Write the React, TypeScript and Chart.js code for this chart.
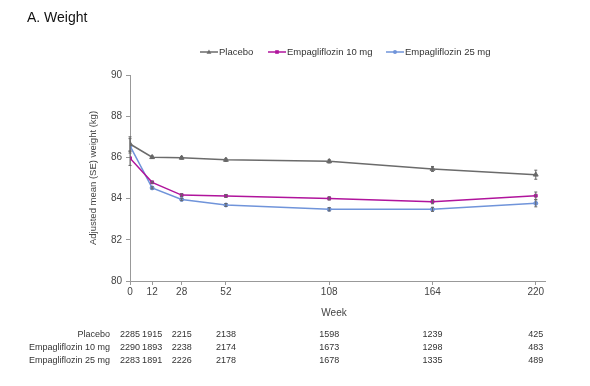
import React, { useEffect, useRef } from "react";
import { Chart, registerables } from "chart.js";

Chart.register(...registerables);

const weeks = [0, 12, 28, 52, 108, 164, 220];
const seriesNames = ["Placebo", "Empagliflozin 10 mg", "Empagliflozin 25 mg"];
const placebo = [86.65, 86.01, 85.98, 85.88, 85.81, 85.44, 85.16];
const empa10 = [85.96, 84.79, 84.17, 84.13, 84.01, 83.85, 84.14];
const empa25 = [86.56, 84.52, 83.96, 83.69, 83.48, 83.48, 83.77];
const placeboSE = [0.35, 0.06, 0.06, 0.07, 0.08, 0.12, 0.22];
const empa10SE = [0.35, 0.05, 0.06, 0.07, 0.08, 0.1, 0.18];
const empa25SE = [0.35, 0.05, 0.06, 0.07, 0.08, 0.1, 0.17];
const atRiskPlacebo = [2285, 1915, 2215, 2138, 1598, 1239, 425];
const atRisk10 = [2290, 1893, 2238, 2174, 1673, 1298, 483];
const atRisk25 = [2283, 1891, 2226, 2178, 1678, 1335, 489];
const yTicks = [80, 82, 84, 86, 88, 90];

const colors = ["#6b6b6b", "#b0149c", "#7094da"];
const markers = ["triangle", "rect", "circle"];
const markerRadius = [2.8, 2, 2];
const FONT = "'Liberation Sans', Arial, sans-serif";

export default function App() {
  const ref = useRef<HTMLCanvasElement>(null);
  useEffect(() => {
    const ctx = ref.current!;
    const values = [placebo, empa10, empa25];
    const ses = [placeboSE, empa10SE, empa25SE];
    const risks = [atRiskPlacebo, atRisk10, atRisk25];

    const overlay = {
      id: "overlay",
      afterDatasetsDraw(chart: any) {
        const c = chart.ctx as CanvasRenderingContext2D;
        const xs = chart.scales.x;
        const ys = chart.scales.y;
        c.save();
        ses.forEach((se, di) => {
          c.strokeStyle = "#666";
          c.lineWidth = 1;
          weeks.forEach((w, i) => {
            const x = xs.getPixelForValue(w);
            const y1 = ys.getPixelForValue(values[di][i] - se[i]);
            const y2 = ys.getPixelForValue(values[di][i] + se[i]);
            c.beginPath();
            c.moveTo(x, y1);
            c.lineTo(x, y2);
            c.moveTo(x - 1.5, y1);
            c.lineTo(x + 1.5, y1);
            c.moveTo(x - 1.5, y2);
            c.lineTo(x + 1.5, y2);
            c.stroke();
          });
        });
        c.restore();
      },
      afterDraw(chart: any) {
        const c = chart.ctx as CanvasRenderingContext2D;
        const xs = chart.scales.x;
        c.save();
        c.fillStyle = "#111";
        c.font = `14px ${FONT}`;
        c.textAlign = "left";
        c.textBaseline = "middle";
        c.fillText("A. Weight", 27, 18);
        const legX = [200, 268, 386];
        c.font = `9.5px ${FONT}`;
        seriesNames.forEach((name, i) => {
          const x0 = legX[i];
          const y = 52;
          c.strokeStyle = colors[i];
          c.lineWidth = 1.5;
          c.beginPath();
          c.moveTo(x0, y);
          c.lineTo(x0 + 18, y);
          c.stroke();
          c.fillStyle = colors[i];
          const mx = x0 + 9;
          if (markers[i] === "triangle") {
            c.beginPath();
            c.moveTo(mx, y - 2.4);
            c.lineTo(mx + 2.4, y + 1.8);
            c.lineTo(mx - 2.4, y + 1.8);
            c.closePath();
            c.fill();
          } else if (markers[i] === "rect") {
            c.fillRect(mx - 1.8, y - 1.8, 3.6, 3.6);
          } else {
            c.beginPath();
            c.arc(mx, y, 2, 0, Math.PI * 2);
            c.fill();
          }
          c.fillStyle = "#333";
          c.textAlign = "left";
          c.fillText(name, x0 + 19, y);
        });
        c.save();
        c.translate(93, 178);
        c.rotate(-Math.PI / 2);
        c.textAlign = "center";
        c.fillStyle = "#444";
        c.font = `9.5px ${FONT}`;
        c.fillText("Adjusted mean (SE) weight (kg)", 0, 0);
        c.restore();
        c.textAlign = "center";
        c.fillStyle = "#444";
        c.font = `10px ${FONT}`;
        c.fillText("Week", 334, 313);
        const rowY = [335, 348, 361];
        c.font = `9px ${FONT}`;
        risks.forEach((row, ri) => {
          c.textAlign = "right";
          c.fillStyle = "#333";
          c.fillText(seriesNames[ri], 110, rowY[ri]);
          c.textAlign = "center";
          row.forEach((n, i) => {
            c.fillText(String(n), xs.getPixelForValue(weeks[i]), rowY[ri]);
          });
        });
        c.restore();
      },
    };

    const chart = new Chart(ctx, {
      type: "line",
      data: {
        datasets: values.map((vals, di) => ({
          label: seriesNames[di],
          data: weeks.map((w, i) => ({ x: w, y: vals[i] })),
          borderColor: colors[di],
          backgroundColor: colors[di],
          pointBackgroundColor: colors[di],
          pointBorderColor: colors[di],
          pointStyle: markers[di] as any,
          pointRadius: markerRadius[di],
          pointBorderWidth: 1,
          borderWidth: 1.5,
          tension: 0,
        })),
      },
      options: {
        responsive: false,
        animation: false,
        layout: { padding: { left: 90, right: 45, top: 75, bottom: 85 } },
        plugins: { legend: { display: false }, title: { display: false }, tooltip: { enabled: false } },
        scales: {
          x: {
            type: "linear",
            min: 0,
            max: 225,
            afterBuildTicks: (s: any) => {
              s.ticks = weeks.map((v) => ({ value: v }));
            },
            afterFit: (s: any) => {
              s.height = 20;
            },
            ticks: {
              autoSkip: false,
              maxRotation: 0,
              color: "#444",
              font: { family: FONT, size: 10 },
              padding: 1,
              callback: (v: any) => String(v),
            },
            grid: { drawOnChartArea: false, drawTicks: true, tickLength: 4, color: "#999" },
            border: { display: true, color: "#999", width: 1 },
          },
          y: {
            min: 80,
            max: 90,
            afterBuildTicks: (s: any) => {
              s.ticks = yTicks.map((v) => ({ value: v }));
            },
            afterFit: (s: any) => {
              s.width = 40;
            },
            ticks: {
              color: "#444",
              font: { family: FONT, size: 10 },
              padding: 4,
              callback: (v: any) => String(v),
            },
            grid: { drawOnChartArea: false, drawTicks: true, tickLength: 4, color: "#999" },
            border: { display: true, color: "#999", width: 1 },
          },
        },
      },
      plugins: [overlay],
    } as any);
    return () => chart.destroy();
  }, []);

  return (
    <div style={{ position: "fixed", left: 0, top: 0, width: 590, height: 386, background: "#fff" }}>
      <canvas ref={ref} width={590} height={386} style={{ width: 590, height: 386, display: "block" }} />
    </div>
  );
}
